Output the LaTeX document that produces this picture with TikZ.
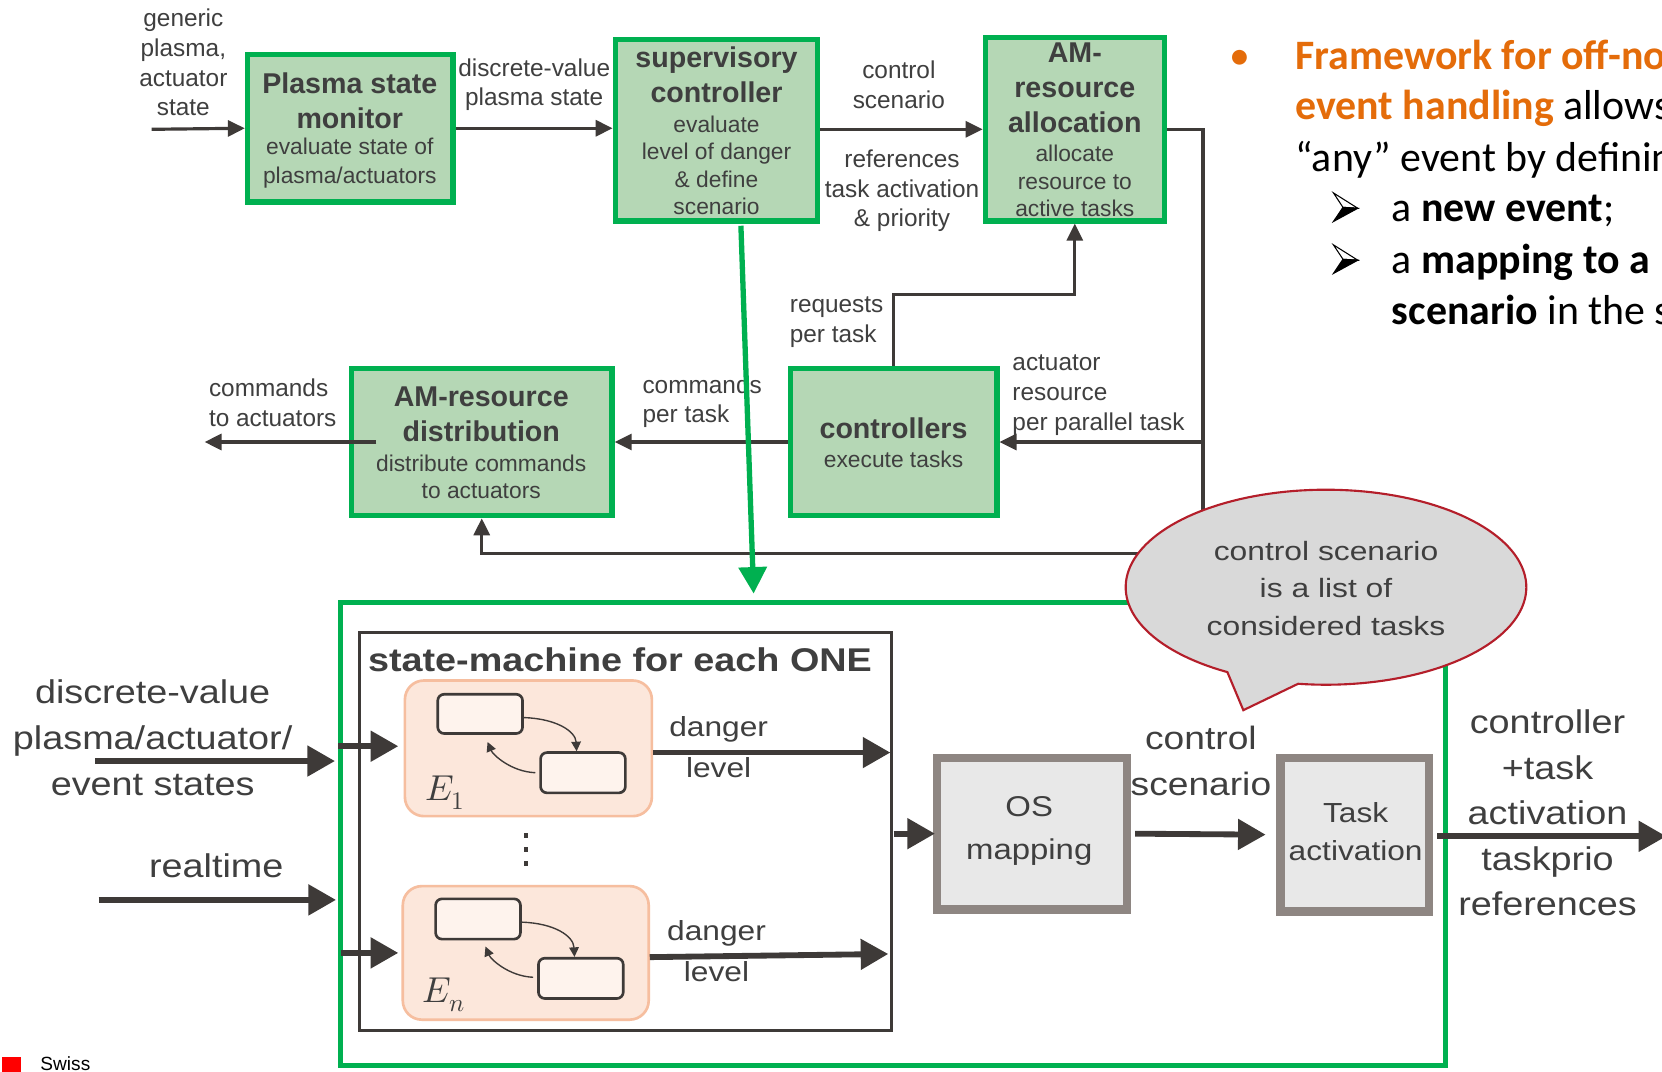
\documentclass[tikz,border=0pt]{standalone}
\usepackage{fontspec}
\usepackage{unicode-math}
\setmainfont{Liberation Sans}
\newfontfamily\widef[FakeStretch=1.15]{Liberation Sans}
\newfontfamily\bubf[FakeStretch=1.2]{Liberation Sans}
\newfontfamily\calf{Carlito}
\usetikzlibrary{arrows.meta}
\definecolor{ggreen}{HTML}{00B050}
\definecolor{gfill}{HTML}{B5D7B5}
\definecolor{lc}{HTML}{3E3A38}
\definecolor{txt}{HTML}{3F3F3F}
\definecolor{osb}{HTML}{8E8682}
\definecolor{osf}{HTML}{E8E8E8}
\definecolor{efill}{HTML}{FCE7DB}
\definecolor{eborder}{HTML}{F6BE9F}
\definecolor{bfill}{HTML}{D9D9D9}
\definecolor{bborder}{HTML}{B41E2A}
\definecolor{orng}{HTML}{E46C0A}
\newcommand\fsz[2]{\fontsize{#1}{#2}\selectfont}
\begin{document}
\begin{tikzpicture}[x=1pt,y=-1pt,
  gbox/.style={draw=ggreen,line width=5pt,fill=gfill,inner sep=0pt},
  obox/.style={draw=osb,line width=8pt,fill=osf,inner sep=0pt},
  ebox/.style={draw=eborder,line width=2.5pt,fill=efill,rounded corners=18pt,inner sep=0pt},
  sbox/.style={draw=lc,line width=2.5pt,fill=efill!50!white,rounded corners=6pt,inner sep=0pt},
  lbl/.style={text=txt,align=center,inner sep=0pt},
  lbll/.style={text=txt,align=left,inner sep=0pt,anchor=west},
  thinarr/.style={draw=lc,line width=3pt,-{Triangle[length=16pt,width=15pt]}},
  thickarr/.style={draw=lc,line width=5.5pt,-{Triangle[length=26pt,width=28pt]}},
  carr/.style={draw=lc,line width=1.3pt,-{Triangle[length=9pt,width=9pt]}},
  rtext/.style={anchor=base west,inner sep=0pt,font=\calf\fsz{39.5}{44}},
]
\useasboundingbox (0,0) rectangle (1568,1011);
\fill[white] (0,0) rectangle (1568,1011);
\clip (0,0) rectangle (1568,1011);

% ---------------- top diagram boxes ----------------
\node[gbox,minimum width=194pt,minimum height=139pt] (psm) at (330.5,121) {};
\node[gbox,minimum width=191pt,minimum height=171pt] (sup) at (676,123) {};
\node[gbox,minimum width=169pt,minimum height=173pt] (amalloc) at (1014,122) {};
\node[gbox,minimum width=195pt,minimum height=139pt] (ctrl) at (843,417) {};
\node[gbox,minimum width=246pt,minimum height=139pt] (amdist) at (454.5,417) {};

% box texts
\node[lbl,font=\bfseries\fsz{27}{33}] (psmT) at (330,95) {Plasma state\\monitor};
\node[lbl,font=\fsz{21.5}{27}] (psmS) at (330,154) {evaluate state of\\plasma/actuators};
\node[lbl,font=\bfseries\fsz{27}{33}] (supT) at (676,71) {supervisory\\controller};
\node[lbl,font=\fsz{21.5}{26}] (supS) at (676,156) {evaluate\\level of danger\\\& define\\scenario};
\node[lbl,font=\bfseries\fsz{27}{33}] (amT) at (1014,83) {AM-\\resource\\allocation};
\node[lbl,font=\fsz{21.5}{26}] (amS) at (1014,171) {allocate\\resource to\\active tasks};
\node[lbl,font=\bfseries\fsz{27}{33}] (ctrT) at (843,404) {controllers};
\node[lbl,font=\fsz{21.5}{26}] (ctrS) at (843,433) {execute tasks};
\node[lbl,font=\bfseries\fsz{27}{33}] (adT) at (454,391) {AM-resource\\distribution};
\node[lbl,font=\fsz{21.5}{26}] (adS) at (454,450) {distribute commands\\to actuators};

% top labels
\node[lbl,font=\fsz{23}{28}] (gen) at (173,59) {generic\\plasma,\\actuator\\state};
\node[lbl,font=\fsz{23}{28}] (dvl) at (504,80) {discrete-value\\plasma state};
\node[lbl,font=\fsz{23}{28}] (csl) at (848,80) {control\\scenario};
\node[lbl,font=\fsz{23}{28}] (refl) at (851,180) {references\\task activation\\\& priority};
\node[lbll,font=\fsz{23}{28}] (reql) at (745,304) {requests\\per task};
\node[lbll,font=\fsz{23}{28.5}] (actl) at (955,373) {actuator\\resource\\per parallel task};
\node[lbll,font=\fsz{23}{28}] (cmpl) at (606,379) {commands\\per task};
\node[lbll,font=\fsz{23}{28}] (cmal) at (197,380) {commands\\to actuators};

% top connectors
\coordinate (gin) at (143,122);
\coordinate (rj) at (1135,122);
\coordinate (rb) at (1135,522);
\coordinate (ab) at (1135,417);
\coordinate (rq) at (843,278);
\coordinate (cmds) at (355,417);
\coordinate (cmde) at (193,417);
\draw[thinarr] (gin) -- (psm.west);
\draw[thinarr] (psm.east) -- (psm.east -| sup.west);
\draw[thinarr] (sup.east |- amalloc.east) -- (amalloc.west);
\draw[thinarr] (amalloc.east) -- (rj) -- (rb) -| (amdist.south);
\draw[thinarr] (ab) -- (ctrl.east);
\draw[thinarr] (ctrl.north) -- (rq) -| (amalloc.south);
\draw[thinarr] (ctrl.west) -- (amdist.east);
\draw[thinarr] (cmds) -- (cmde);

% ---------------- bottom diagram ----------------
\node[draw=ggreen,line width=5pt,inner sep=0pt,minimum width=1042pt,minimum height=437pt] (big) at (842.5,787) {};
\node[draw=lc,line width=2.5pt,inner sep=0pt,minimum width=502pt,minimum height=375pt] (sm) at (590,784.5) {};
\node[anchor=west,inner sep=0pt,text=txt,font=\widef\bfseries\fsz{31}{36}] (smT) at (347,622) {state-machine for each ONE};

\node[ebox,minimum width=233pt,minimum height=128pt] (e1) at (498.5,706) {};
\node[ebox,minimum width=232pt,minimum height=126pt] (en) at (496,899) {};
\node[sbox,minimum width=80pt,minimum height=37pt] (e1a) at (453,673.5) {};
\node[sbox,minimum width=80pt,minimum height=38pt] (e1b) at (550,729) {};
\node[sbox,minimum width=80pt,minimum height=38pt] (ena) at (451,867) {};
\node[sbox,minimum width=80pt,minimum height=38pt] (enb) at (548,923) {};
\draw[carr] (e1a.east |- 0,677) .. controls (525,678) and (543,690) .. (e1b.north -| 544,0);
\draw[carr] (505,729) .. controls (482,728) and (465,712) .. (460,700);
\draw[carr] (ena.east |- 0,870) .. controls (523,871) and (541,883) .. (enb.north -| 542,0);
\draw[carr] (503,922) .. controls (480,921) and (463,905) .. (458,893);
\node[text=txt,inner sep=0pt,font=\fsz{34}{40}] (e1l) at (420,748) {$E_1$};
\node[text=txt,inner sep=0pt,font=\fsz{34}{40}] (enl) at (419,939) {$E_n$};
\fill[lc] (494,786) rectangle (498.5,791);
\fill[lc] (494,799) rectangle (498.5,804);
\fill[lc] (494,812) rectangle (498.5,817);

\node[obox,minimum width=179pt,minimum height=143pt] (os) at (973.5,786.5) {};
\node[obox,minimum width=140pt,minimum height=145pt] (ta) at (1278,787.5) {};
\node[lbl,font=\widef\fsz{27}{40}] (osT) at (971,784) {OS\\mapping};
\node[lbl,font=\widef\fsz{26}{36}] (taT) at (1279,785) {Task\\activation};

% bottom labels
\node[lbl,font=\widef\fsz{31}{43}] (inl) at (144,696) {discrete-value\\plasma/actuator/\\event states};
\node[lbl,font=\widef\fsz{31}{43}] (rtl) at (204,817) {realtime};
\node[lbl,font=\widef\fsz{26}{38}] (dg1) at (678,688) {danger};
\node[lbl,font=\widef\fsz{26}{38}] (lv1) at (678,724) {level};
\node[lbl,font=\widef\fsz{26}{38}] (dg2) at (676,881) {danger};
\node[lbl,font=\widef\fsz{26}{38}] (lv2) at (676,917) {level};
\node[lbl,font=\widef\fsz{30.5}{43}] (csb) at (1133,718) {control\\scenario};
\node[lbl,font=\widef\fsz{31}{43}] (outl) at (1460,767) {controller\\+task\\activation\\taskprio\\references};

% bottom connectors
\coordinate (in1s) at (90,718);
\coordinate (in1e) at (316,718);
\coordinate (in2s) at (93,849);
\coordinate (in2e) at (317,849);
\coordinate (e1in) at (319,704);
\coordinate (enin) at (322,899);
\coordinate (d1s) at (616,710);
\coordinate (d1e) at (840,710);
\coordinate (d2s) at (613,903);
\coordinate (d2e) at (838,900);
\coordinate (osin) at (843,786.5);
\coordinate (outE) at (1572,789);
\draw[thickarr] (in1s) -- (in1e);
\draw[thickarr] (in2s) -- (in2e);
\draw[thickarr,shorten >=5pt] (e1in) -- (e1.west |- e1in);
\draw[thickarr,shorten >=3pt] (enin) -- (en.west |- enin);
\draw[thickarr] (d1s) -- (d1e);
\draw[thickarr] (d2s) -- (d2e);
\draw[thickarr,shorten >=-2pt] (osin) -- (os.west);
\draw[thickarr,shorten <=4pt,shorten >=10pt] (os.east) -- (ta.west);
\draw[thickarr,shorten <=4pt] (ta.east |- outE) -- (outE);

% green arrow
\coordinate (gs) at (699,213);
\coordinate (ge) at (711,560);
\draw[ggreen,line width=5pt,-{Triangle[length=25pt,width=26pt]}] (gs) -- (ge);

% bubble
\draw[fill=bfill,draw=bborder,line width=2pt] plot[domain=119.5:458,samples=150] ({1251+189*cos(\x)},{554+92*sin(\x)}) -- (1173,670) -- cycle;
\node[lbl,font=\bubf\fsz{25}{35.5}] (bubT) at (1251,555) {control scenario\\is a list of\\considered tasks};

% right text
\node[anchor=base,inner sep=0pt,text=orng,font=\calf\fsz{39.5}{44}] (bul) at (1170,66) {•};
\node[rtext,text=orng] (r1) at (1222,66) {\bfseries Framework for off-no};
\node[rtext] (r2) at (1222,113) {\textcolor{orng}{\bfseries event handling} allows};
\node[rtext] (r3) at (1222,162) {“any” event by definin};
\node[rtext] (r4) at (1313,209) {a \textbf{new event};};
\node[rtext] (r5) at (1313,258) {a \textbf{mapping to a}};
\node[rtext] (r6) at (1313,306) {\textbf{scenario} in the s};
\foreach \dy in {0,49}{
  \filldraw[fill=white,draw=black,line width=1pt] (1258,{182+\dy}) -- (1281,{196.5+\dy}) -- (1267,{195.6+\dy}) -- cycle;
  \filldraw[fill=black,draw=black,line width=1pt] (1267,{195.6+\dy}) -- (1281,{196.5+\dy}) -- (1258,{209+\dy}) -- cycle;
}

% footer
\fill[red] (2,997) rectangle (20,1011);
\node[anchor=base west,inner sep=0pt,font=\fsz{18}{22}] (sw) at (38,1009.5) {Swiss};
\end{tikzpicture}
\end{document}
